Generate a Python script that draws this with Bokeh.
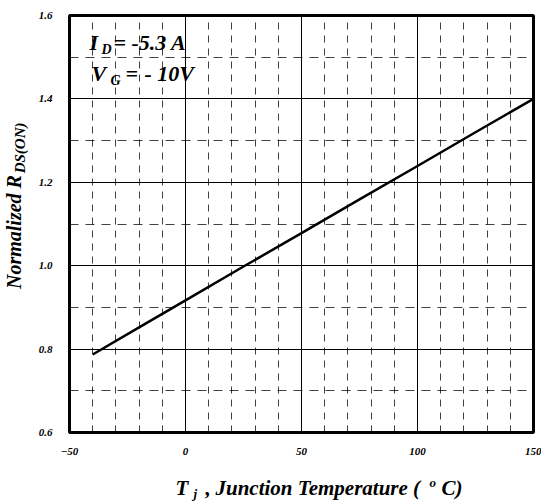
import numpy as np
from bokeh.plotting import figure
from bokeh.layouts import column, row
from bokeh.models import FixedTicker, Label, Range1d
from bokeh.core.properties import value
from bokeh.embed import file_html
from bokeh.resources import INLINE

# data
temp_c = [-40, -20, 0, 25, 50, 75, 100, 125, 150]
rds_norm = [0.787, 0.852, 0.917, 0.998, 1.078, 1.159, 1.239, 1.320, 1.400]

x_major = [-50, 0, 50, 100, 150]
x_minor = [-40, -30, -20, -10, 10, 20, 30, 40, 60, 70, 80, 90, 110, 120, 130, 140]
y_major = [0.6, 0.8, 1.0, 1.2, 1.4, 1.6]
y_minor = [0.7, 0.9, 1.1, 1.3, 1.5]
y_tick_labels = {0.6: "0.6", 0.8: "0.8", 1.0: "1.0", 1.2: "1.2", 1.4: "1.4", 1.6: "1.6"}

FONT = "Liberation Serif"
K = 0.35  # baseline correction, fraction of font size

# ---------------- main chart ----------------
p = figure(width=506, height=465, output_backend="svg", toolbar_location=None, title=None,
           x_range=Range1d(-50, 150), y_range=Range1d(0.6, 1.6),
           min_border_left=30, min_border_right=8, min_border_top=15, min_border_bottom=33)
p.background_fill_color = "white"
p.border_fill_color = "white"
p.outline_line_color = "black"
p.outline_line_width = 3

p.xaxis.ticker = FixedTicker(ticks=x_major, minor_ticks=x_minor)
p.yaxis.ticker = FixedTicker(ticks=y_major, minor_ticks=y_minor)
p.yaxis.major_label_overrides = y_tick_labels

for ax in (p.xaxis[0], p.yaxis[0]):
    ax.axis_line_color = None
    ax.major_tick_line_color = None
    ax.minor_tick_line_color = None
    ax.major_label_text_font = FONT
    ax.major_label_text_font_style = "bold italic"
    ax.major_label_text_font_size = "11px"
    ax.major_label_text_color = "black"
p.xaxis.major_label_standoff = 9
p.yaxis.major_label_standoff = 11

for g in (p.xgrid[0], p.ygrid[0]):
    g.grid_line_color = "black"
    g.grid_line_width = 1
    g.grid_line_alpha = 1
    g.minor_grid_line_color = "black"
    g.minor_grid_line_alpha = 0.75
    g.minor_grid_line_width = 1
p.xgrid.minor_grid_line_dash = "7 6"
p.ygrid.minor_grid_line_dash = "9 7"

p.line(temp_c, rds_norm, line_color="black", line_width=2.5)

FRAME_BOTTOM = 432  # page y of the frame's bottom edge
FRAME_LEFT = 65


def lab(text, px, baseline, size):
    p.add_layout(Label(x=px - FRAME_LEFT, y=FRAME_BOTTOM - baseline + K * size,
                       x_units="screen", y_units="screen", text=text,
                       text_font=FONT, text_font_style="bold italic", text_font_size=f"{size}px",
                       text_color="black", text_baseline="alphabetic", text_align="left"))


# in-plot annotation
lab("I", 85, 50, 22)
lab("D", 97, 54, 14)
lab("=", 109, 50, 22)
lab("-5.3 A", 127, 50, 22)
lab("V", 87, 81, 22)
lab("G", 106, 85, 14)
lab("=", 121, 81, 22)
lab("- 10V", 140, 81, 22)


def text_fig(w, h):
    f = figure(width=w, height=h, output_backend="svg", toolbar_location=None, title=None,
               x_range=Range1d(0, w), y_range=Range1d(0, h),
               min_border=0, min_border_left=0, min_border_right=0,
               min_border_top=0, min_border_bottom=0)
    f.axis.visible = False
    f.grid.visible = False
    f.outline_line_color = None
    f.background_fill_color = "white"
    f.border_fill_color = "white"
    return f


def txt(f, s, x, y, size, angle=0.0):
    f.text(x=[x], y=[y], text=[s], text_font=value(FONT), text_font_style="bold italic",
           text_font_size=value(f"{size}px"), text_color="black", angle=angle,
           text_align="left", text_baseline="alphabetic")


# ---------------- y axis title (rotated) ----------------
YH = 465
ylab = text_fig(35, YH)
txt(ylab, "Normalized R", 20 - K * 20, YH - 305, 20, angle=np.pi / 2)
txt(ylab, "DS(ON)", 25 - K * 15, YH - 176, 15, angle=np.pi / 2)

# ---------------- x axis title ----------------
XH = 36
PAGE_H = 501
xlab = text_fig(541, XH)


def xt(s, px, baseline, size):
    txt(xlab, s, px, PAGE_H - baseline + K * size, size)


xt("T", 175, 495, 21)
xt("j", 193, 498, 13)
xt(",", 205, 495, 21)
xt("Junction Temperature (", 215, 495, 21)
xt("o", 429, 487, 13)
xt("C)", 441, 495, 21)

layout = column(row(ylab, p, spacing=0), xlab, spacing=0)
open("out.html", "w").write(file_html(layout, INLINE))
